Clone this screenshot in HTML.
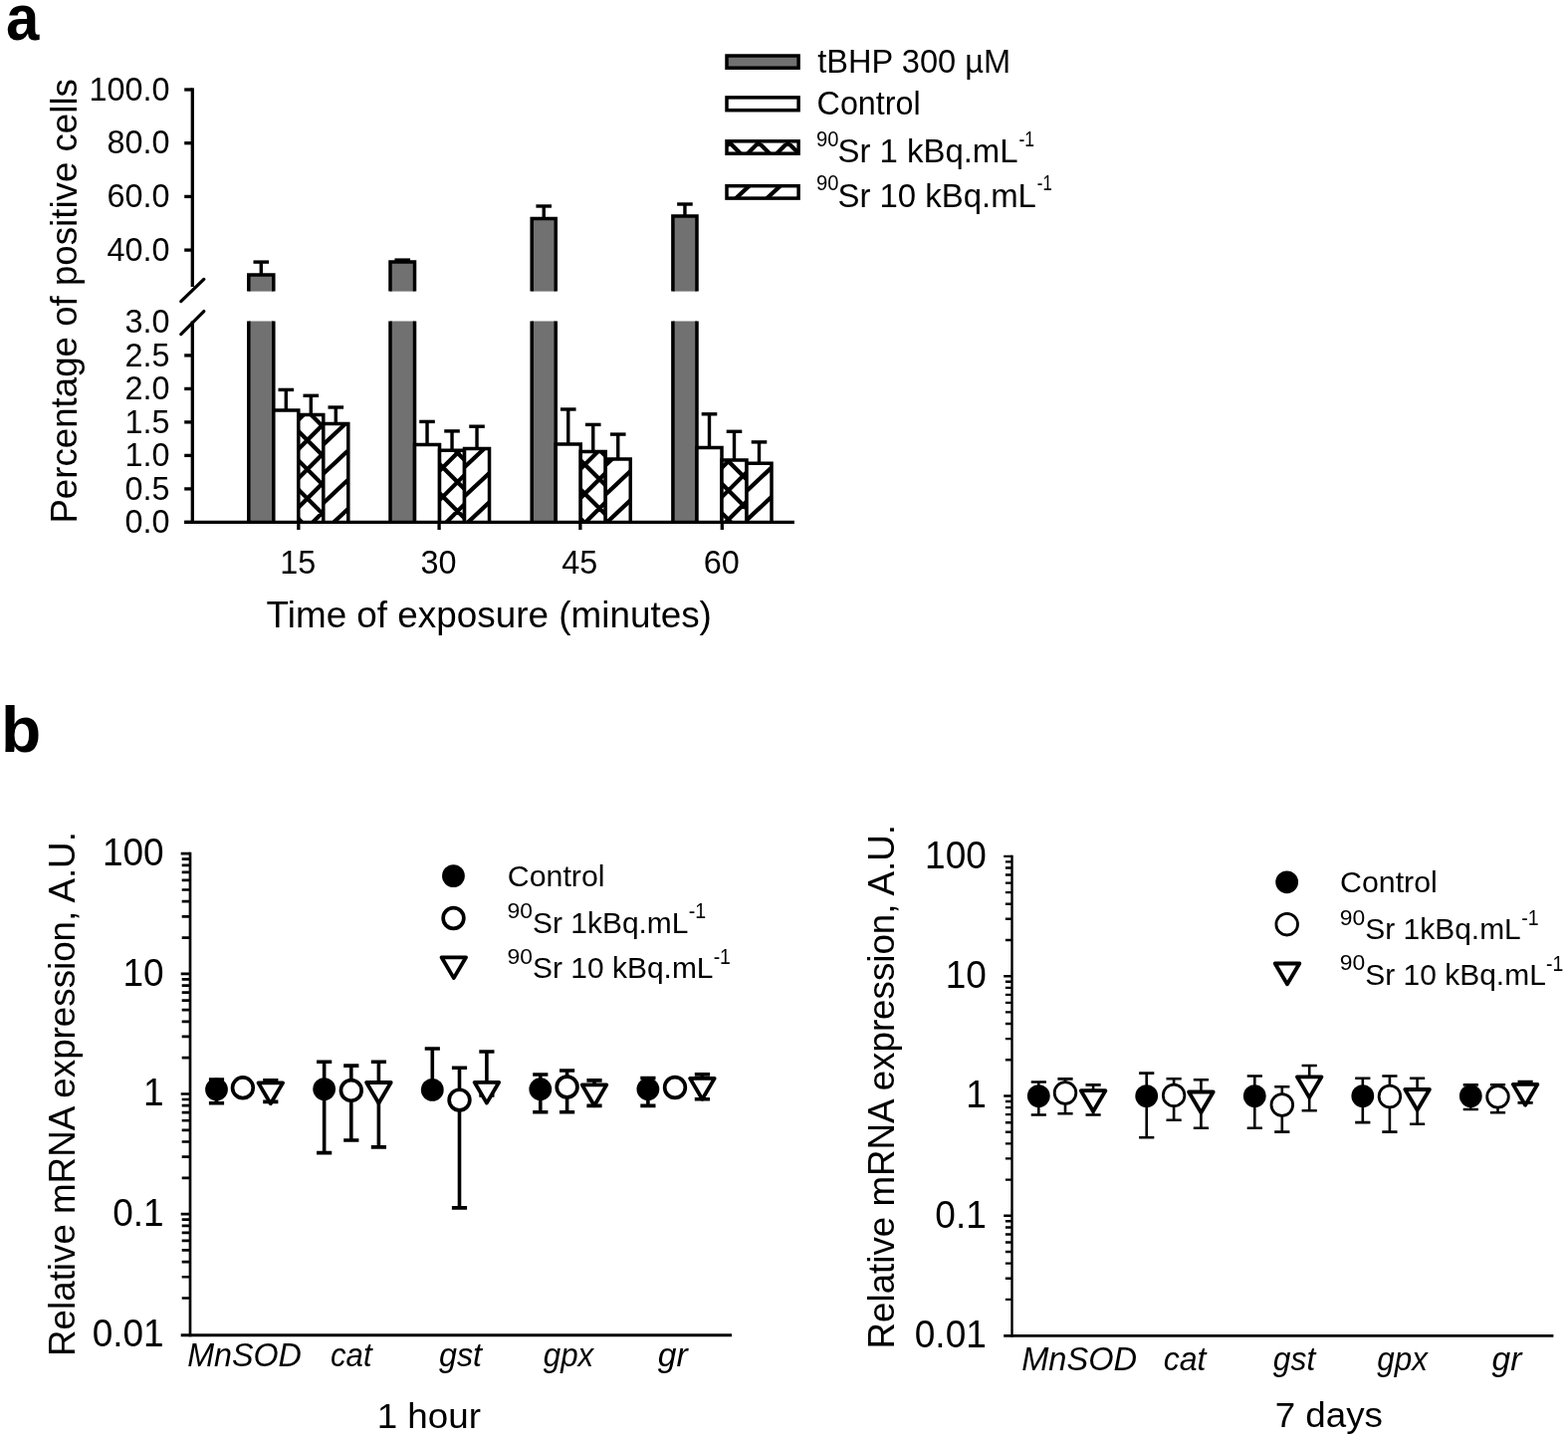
<!DOCTYPE html>
<html lang="en"><head><meta charset="utf-8"><title>Figure</title>
<style>html,body{margin:0;padding:0;background:#fff}svg{display:block}</style>
</head><body>
<svg width="1575" height="1447" viewBox="0 0 1575 1447" font-family='"Liberation Sans", Arial, Helvetica, sans-serif' fill="#000">
<rect width="1575" height="1447" fill="#fff"/>
<line x1="262.30" y1="263.10" x2="262.30" y2="276.00" stroke="#000" stroke-width="3.4"/>
<line x1="254.50" y1="263.10" x2="270.10" y2="263.10" stroke="#000" stroke-width="3.4"/>
<rect x="249.80" y="276.00" width="25.00" height="16.60" fill="#717171"/>
<path d="M249.80 292.60V276.00H274.80V292.60" fill="none" stroke="#000" stroke-width="3.5"/>
<rect x="249.80" y="322.50" width="25.00" height="201.90" fill="#717171"/>
<path d="M249.80 322.50V524.40M274.80 322.50V524.40" fill="none" stroke="#000" stroke-width="3.5"/>
<line x1="287.30" y1="391.40" x2="287.30" y2="411.90" stroke="#000" stroke-width="3.4"/>
<line x1="279.50" y1="391.40" x2="295.10" y2="391.40" stroke="#000" stroke-width="3.4"/>
<rect x="274.80" y="411.90" width="25.00" height="112.50" fill="#fff"/>
<path d="M274.80 524.40V411.90H299.80V524.40" fill="none" stroke="#000" stroke-width="3.5"/>
<line x1="312.30" y1="397.30" x2="312.30" y2="416.50" stroke="#000" stroke-width="3.4"/>
<line x1="304.50" y1="397.30" x2="320.10" y2="397.30" stroke="#000" stroke-width="3.4"/>
<rect x="299.80" y="416.50" width="25.00" height="107.90" fill="#fff"/>
<clipPath id="c1"><rect x="299.80" y="416.50" width="25.00" height="107.90"/></clipPath>
<path clip-path="url(#c1)" stroke="#000" stroke-width="4.2" fill="none" d="M294.8 397.3L329.8 362.3M294.8 426.6L329.8 391.6M294.8 455.9L329.8 420.9M294.8 485.2L329.8 450.2M294.8 514.5L329.8 479.5M294.8 543.8L329.8 508.8M294.8 573.1L329.8 538.1M294.8 545.3L329.8 580.3M294.8 516.0L329.8 551.0M294.8 486.7L329.8 521.7M294.8 457.4L329.8 492.4M294.8 428.1L329.8 463.1M294.8 398.8L329.8 433.8M294.8 369.5L329.8 404.5"/>
<path d="M299.80 524.40V416.50H324.80V524.40" fill="none" stroke="#000" stroke-width="3.5"/>
<line x1="337.30" y1="409.00" x2="337.30" y2="425.60" stroke="#000" stroke-width="3.4"/>
<line x1="329.50" y1="409.00" x2="345.10" y2="409.00" stroke="#000" stroke-width="3.4"/>
<rect x="324.80" y="425.60" width="25.00" height="98.80" fill="#fff"/>
<clipPath id="c2"><rect x="324.80" y="425.60" width="25.00" height="98.80"/></clipPath>
<path clip-path="url(#c2)" stroke="#000" stroke-width="4.2" fill="none" d="M319.8 421.9L354.8 389.0M319.8 451.1L354.8 418.2M319.8 480.4L354.8 447.5M319.8 509.8L354.8 476.9M319.8 539.0L354.8 506.1M319.8 568.4L354.8 535.5"/>
<path d="M324.80 524.40V425.60H349.80V524.40" fill="none" stroke="#000" stroke-width="3.5"/>
<line x1="404.26" y1="261.10" x2="404.26" y2="263.10" stroke="#000" stroke-width="3.4"/>
<line x1="396.46" y1="261.10" x2="412.06" y2="261.10" stroke="#000" stroke-width="3.4"/>
<rect x="392.00" y="263.10" width="24.53" height="29.50" fill="#717171"/>
<path d="M392.00 292.60V263.10H416.53V292.60" fill="none" stroke="#000" stroke-width="3.5"/>
<rect x="392.00" y="322.50" width="24.53" height="201.90" fill="#717171"/>
<path d="M392.00 322.50V524.40M416.53 322.50V524.40" fill="none" stroke="#000" stroke-width="3.5"/>
<line x1="429.03" y1="423.40" x2="429.03" y2="446.60" stroke="#000" stroke-width="3.4"/>
<line x1="421.23" y1="423.40" x2="436.83" y2="423.40" stroke="#000" stroke-width="3.4"/>
<rect x="416.53" y="446.60" width="25.00" height="77.80" fill="#fff"/>
<path d="M416.53 524.40V446.60H441.53V524.40" fill="none" stroke="#000" stroke-width="3.5"/>
<line x1="454.03" y1="432.90" x2="454.03" y2="452.30" stroke="#000" stroke-width="3.4"/>
<line x1="446.23" y1="432.90" x2="461.83" y2="432.90" stroke="#000" stroke-width="3.4"/>
<rect x="441.53" y="452.30" width="25.00" height="72.10" fill="#fff"/>
<clipPath id="c3"><rect x="441.53" y="452.30" width="25.00" height="72.10"/></clipPath>
<path clip-path="url(#c3)" stroke="#000" stroke-width="4.2" fill="none" d="M436.5 448.5L471.5 413.5M436.5 477.8L471.5 442.8M436.5 507.1L471.5 472.1M436.5 536.4L471.5 501.4M436.5 565.7L471.5 530.7M436.5 548.9L471.5 583.9M436.5 519.6L471.5 554.6M436.5 490.3L471.5 525.3M436.5 461.0L471.5 496.0M436.5 431.7L471.5 466.7M436.5 402.4L471.5 437.4"/>
<path d="M441.53 524.40V452.30H466.53V524.40" fill="none" stroke="#000" stroke-width="3.5"/>
<line x1="479.03" y1="428.20" x2="479.03" y2="450.50" stroke="#000" stroke-width="3.4"/>
<line x1="471.23" y1="428.20" x2="486.83" y2="428.20" stroke="#000" stroke-width="3.4"/>
<rect x="466.53" y="450.50" width="25.00" height="73.90" fill="#fff"/>
<clipPath id="c4"><rect x="466.53" y="450.50" width="25.00" height="73.90"/></clipPath>
<path clip-path="url(#c4)" stroke="#000" stroke-width="4.2" fill="none" d="M461.5 444.6L496.5 411.7M461.5 473.9L496.5 441.0M461.5 503.2L496.5 470.3M461.5 532.5L496.5 499.6M461.5 561.8L496.5 528.9"/>
<path d="M466.53 524.40V450.50H491.53V524.40" fill="none" stroke="#000" stroke-width="3.5"/>
<line x1="546.23" y1="207.00" x2="546.23" y2="219.60" stroke="#000" stroke-width="3.4"/>
<line x1="538.43" y1="207.00" x2="554.03" y2="207.00" stroke="#000" stroke-width="3.4"/>
<rect x="534.20" y="219.60" width="24.06" height="73.00" fill="#717171"/>
<path d="M534.20 292.60V219.60H558.26V292.60" fill="none" stroke="#000" stroke-width="3.5"/>
<rect x="534.20" y="322.50" width="24.06" height="201.90" fill="#717171"/>
<path d="M534.20 322.50V524.40M558.26 322.50V524.40" fill="none" stroke="#000" stroke-width="3.5"/>
<line x1="570.76" y1="411.00" x2="570.76" y2="445.90" stroke="#000" stroke-width="3.4"/>
<line x1="562.96" y1="411.00" x2="578.56" y2="411.00" stroke="#000" stroke-width="3.4"/>
<rect x="558.26" y="445.90" width="25.00" height="78.50" fill="#fff"/>
<path d="M558.26 524.40V445.90H583.26V524.40" fill="none" stroke="#000" stroke-width="3.5"/>
<line x1="595.76" y1="426.40" x2="595.76" y2="453.50" stroke="#000" stroke-width="3.4"/>
<line x1="587.96" y1="426.40" x2="603.56" y2="426.40" stroke="#000" stroke-width="3.4"/>
<rect x="583.26" y="453.50" width="25.00" height="70.90" fill="#fff"/>
<clipPath id="c5"><rect x="583.26" y="453.50" width="25.00" height="70.90"/></clipPath>
<path clip-path="url(#c5)" stroke="#000" stroke-width="4.2" fill="none" d="M578.3 446.4L613.3 411.4M578.3 475.7L613.3 440.7M578.3 505.0L613.3 470.0M578.3 534.3L613.3 499.3M578.3 563.6L613.3 528.6M578.3 545.2L613.3 580.2M578.3 515.9L613.3 550.9M578.3 486.6L613.3 521.6M578.3 457.3L613.3 492.3M578.3 428.0L613.3 463.0M578.3 398.7L613.3 433.7"/>
<path d="M583.26 524.40V453.50H608.26V524.40" fill="none" stroke="#000" stroke-width="3.5"/>
<line x1="620.76" y1="436.10" x2="620.76" y2="460.90" stroke="#000" stroke-width="3.4"/>
<line x1="612.96" y1="436.10" x2="628.56" y2="436.10" stroke="#000" stroke-width="3.4"/>
<rect x="608.26" y="460.90" width="25.00" height="63.50" fill="#fff"/>
<clipPath id="c6"><rect x="608.26" y="460.90" width="25.00" height="63.50"/></clipPath>
<path clip-path="url(#c6)" stroke="#000" stroke-width="4.2" fill="none" d="M603.3 442.6L638.3 409.7M603.3 471.9L638.3 439.0M603.3 501.2L638.3 468.3M603.3 530.5L638.3 497.6M603.3 559.8L638.3 526.9"/>
<path d="M608.26 524.40V460.90H633.26V524.40" fill="none" stroke="#000" stroke-width="3.5"/>
<line x1="687.94" y1="205.00" x2="687.94" y2="217.10" stroke="#000" stroke-width="3.4"/>
<line x1="680.14" y1="205.00" x2="695.74" y2="205.00" stroke="#000" stroke-width="3.4"/>
<rect x="675.90" y="217.10" width="24.09" height="75.50" fill="#717171"/>
<path d="M675.90 292.60V217.10H699.99V292.60" fill="none" stroke="#000" stroke-width="3.5"/>
<rect x="675.90" y="322.50" width="24.09" height="201.90" fill="#717171"/>
<path d="M675.90 322.50V524.40M699.99 322.50V524.40" fill="none" stroke="#000" stroke-width="3.5"/>
<line x1="712.49" y1="415.80" x2="712.49" y2="449.50" stroke="#000" stroke-width="3.4"/>
<line x1="704.69" y1="415.80" x2="720.29" y2="415.80" stroke="#000" stroke-width="3.4"/>
<rect x="699.99" y="449.50" width="25.00" height="74.90" fill="#fff"/>
<path d="M699.99 524.40V449.50H724.99V524.40" fill="none" stroke="#000" stroke-width="3.5"/>
<line x1="737.49" y1="433.30" x2="737.49" y2="462.10" stroke="#000" stroke-width="3.4"/>
<line x1="729.69" y1="433.30" x2="745.29" y2="433.30" stroke="#000" stroke-width="3.4"/>
<rect x="724.99" y="462.10" width="25.00" height="62.30" fill="#fff"/>
<clipPath id="c7"><rect x="724.99" y="462.10" width="25.00" height="62.30"/></clipPath>
<path clip-path="url(#c7)" stroke="#000" stroke-width="4.2" fill="none" d="M720.0 445.5L755.0 410.5M720.0 474.8L755.0 439.8M720.0 504.1L755.0 469.1M720.0 533.4L755.0 498.4M720.0 562.7L755.0 527.7M720.0 539.4L755.0 574.4M720.0 510.1L755.0 545.1M720.0 480.8L755.0 515.8M720.0 451.5L755.0 486.5M720.0 422.2L755.0 457.2"/>
<path d="M724.99 524.40V462.10H749.99V524.40" fill="none" stroke="#000" stroke-width="3.5"/>
<line x1="762.49" y1="443.90" x2="762.49" y2="465.20" stroke="#000" stroke-width="3.4"/>
<line x1="754.69" y1="443.90" x2="770.29" y2="443.90" stroke="#000" stroke-width="3.4"/>
<rect x="749.99" y="465.20" width="25.00" height="59.20" fill="#fff"/>
<clipPath id="c8"><rect x="749.99" y="465.20" width="25.00" height="59.20"/></clipPath>
<path clip-path="url(#c8)" stroke="#000" stroke-width="4.2" fill="none" d="M745.0 439.1L780.0 406.2M745.0 468.4L780.0 435.5M745.0 497.7L780.0 464.8M745.0 527.0L780.0 494.1M745.0 556.3L780.0 523.4M745.0 585.6L780.0 552.7"/>
<path d="M749.99 524.40V465.20H774.99V524.40" fill="none" stroke="#000" stroke-width="3.5"/>
<line x1="193.30" y1="88.35" x2="193.30" y2="288.00" stroke="#000" stroke-width="3.3"/>
<line x1="193.30" y1="322.50" x2="193.30" y2="526.05" stroke="#000" stroke-width="3.3"/>
<line x1="181.80" y1="302.60" x2="204.80" y2="280.40" stroke="#000" stroke-width="3.3" stroke-linecap="round"/>
<line x1="181.80" y1="335.60" x2="204.80" y2="312.60" stroke="#000" stroke-width="3.3" stroke-linecap="round"/>
<line x1="185.20" y1="90.00" x2="193.30" y2="90.00" stroke="#000" stroke-width="3.3"/>
<text transform="translate(170.50 100.60) scale(0.9530 1)" text-anchor="end" font-size="34.0">100.0</text>
<line x1="185.20" y1="143.70" x2="193.30" y2="143.70" stroke="#000" stroke-width="3.3"/>
<text transform="translate(170.50 154.30) scale(0.9530 1)" text-anchor="end" font-size="34.0">80.0</text>
<line x1="185.20" y1="197.40" x2="193.30" y2="197.40" stroke="#000" stroke-width="3.3"/>
<text transform="translate(170.50 208.00) scale(0.9530 1)" text-anchor="end" font-size="34.0">60.0</text>
<line x1="185.20" y1="251.10" x2="193.30" y2="251.10" stroke="#000" stroke-width="3.3"/>
<text transform="translate(170.50 261.70) scale(0.9530 1)" text-anchor="end" font-size="34.0">40.0</text>
<text transform="translate(170.50 334.00) scale(0.9530 1)" text-anchor="end" font-size="34.0">3.0</text>
<line x1="185.20" y1="356.90" x2="193.30" y2="356.90" stroke="#000" stroke-width="3.3"/>
<text transform="translate(170.50 367.50) scale(0.9530 1)" text-anchor="end" font-size="34.0">2.5</text>
<line x1="185.20" y1="390.40" x2="193.30" y2="390.40" stroke="#000" stroke-width="3.3"/>
<text transform="translate(170.50 401.00) scale(0.9530 1)" text-anchor="end" font-size="34.0">2.0</text>
<line x1="185.20" y1="423.90" x2="193.30" y2="423.90" stroke="#000" stroke-width="3.3"/>
<text transform="translate(170.50 434.50) scale(0.9530 1)" text-anchor="end" font-size="34.0">1.5</text>
<line x1="185.20" y1="457.40" x2="193.30" y2="457.40" stroke="#000" stroke-width="3.3"/>
<text transform="translate(170.50 468.00) scale(0.9530 1)" text-anchor="end" font-size="34.0">1.0</text>
<line x1="185.20" y1="490.90" x2="193.30" y2="490.90" stroke="#000" stroke-width="3.3"/>
<text transform="translate(170.50 501.50) scale(0.9530 1)" text-anchor="end" font-size="34.0">0.5</text>
<line x1="185.20" y1="524.40" x2="193.30" y2="524.40" stroke="#000" stroke-width="3.3"/>
<text transform="translate(170.50 535.00) scale(0.9530 1)" text-anchor="end" font-size="34.0">0.0</text>
<line x1="185.20" y1="524.40" x2="797.90" y2="524.40" stroke="#000" stroke-width="3.3"/>
<line x1="299.85" y1="524.40" x2="299.85" y2="532.00" stroke="#000" stroke-width="3.3"/>
<text transform="translate(299.25 575.80) scale(0.9530 1)" text-anchor="middle" font-size="34.0">15</text>
<line x1="441.10" y1="524.40" x2="441.10" y2="532.00" stroke="#000" stroke-width="3.3"/>
<text transform="translate(440.50 575.80) scale(0.9530 1)" text-anchor="middle" font-size="34.0">30</text>
<line x1="582.90" y1="524.40" x2="582.90" y2="532.00" stroke="#000" stroke-width="3.3"/>
<text transform="translate(582.30 575.80) scale(0.9530 1)" text-anchor="middle" font-size="34.0">45</text>
<line x1="725.30" y1="524.40" x2="725.30" y2="532.00" stroke="#000" stroke-width="3.3"/>
<text transform="translate(724.70 575.80) scale(0.9530 1)" text-anchor="middle" font-size="34.0">60</text>
<text transform="translate(267.59 630.00) scale(1.0017 1)" font-size="36.8">Time of exposure (minutes)</text>
<text transform="translate(76.80 525.61) rotate(-90) scale(0.9970 1)" font-size="36.8">Percentage of positive cells</text>
<text transform="translate(6.06 40.30) scale(0.9149 1)" font-size="65.5" font-weight="bold">a</text>
<rect x="730.0" y="56.0" width="72.10" height="12.20" fill="#717171"/>
<rect x="730.0" y="56.0" width="72.10" height="12.20" fill="none" stroke="#000" stroke-width="3.5"/>
<rect x="730.0" y="97.9" width="72.10" height="12.80" fill="#fff"/>
<rect x="730.0" y="97.9" width="72.10" height="12.80" fill="none" stroke="#000" stroke-width="3.5"/>
<rect x="730.0" y="141.8" width="72.10" height="12.40" fill="#fff"/>
<clipPath id="c9"><rect x="730.00" y="141.80" width="72.10" height="12.40"/></clipPath>
<path clip-path="url(#c9)" stroke="#000" stroke-width="4.2" fill="none" d="M725.0 121.5L807.1 39.4M725.0 150.8L807.1 68.7M725.0 180.1L807.1 98.0M725.0 209.4L807.1 127.3M725.0 238.7L807.1 156.6M725.0 164.7L807.1 246.8M725.0 135.4L807.1 217.5M725.0 106.1L807.1 188.2M725.0 76.8L807.1 158.9M725.0 47.5L807.1 129.6"/>
<rect x="730.0" y="141.8" width="72.10" height="12.40" fill="none" stroke="#000" stroke-width="3.5"/>
<rect x="730.0" y="186.7" width="72.10" height="12.40" fill="#fff"/>
<clipPath id="c10"><rect x="730.00" y="186.70" width="72.10" height="12.40"/></clipPath>
<path clip-path="url(#c10)" stroke="#000" stroke-width="4.2" fill="none" d="M725.0 183.2L807.1 106.1M725.0 212.5L807.1 135.4M725.0 241.8L807.1 164.7M725.0 271.1L807.1 194.0M725.0 300.4L807.1 223.3"/>
<rect x="730.0" y="186.7" width="72.10" height="12.40" fill="none" stroke="#000" stroke-width="3.5"/>
<text transform="translate(821.31 72.80) scale(0.9815 1)" font-size="33.2">tBHP 300 µM</text>
<text transform="translate(820.58 115.40) scale(0.9733 1)" font-size="33.2">Control</text>
<text transform="translate(820.07 146.70) scale(0.9498 1)" font-size="21.2">90</text>
<text transform="translate(841.52 163.10) scale(0.9918 1)" font-size="33.2">Sr 1 kBq.mL</text>
<text transform="translate(1023.43 146.60) scale(0.8286 1)" font-size="21.2">-1</text>
<text transform="translate(820.07 191.10) scale(0.9498 1)" font-size="21.2">90</text>
<text transform="translate(841.52 207.50) scale(0.9913 1)" font-size="33.2">Sr 10 kBq.mL</text>
<text transform="translate(1041.86 191.10) scale(0.7931 1)" font-size="21.2">-1</text>
<text transform="translate(1.01 755.00) scale(1.0067 1)" font-size="65.5" font-weight="bold">b</text>
<line x1="191.00" y1="855.85" x2="191.00" y2="1342.25" stroke="#000" stroke-width="2.7"/>
<line x1="181.70" y1="1340.70" x2="735.00" y2="1340.70" stroke="#000" stroke-width="3.1"/>
<text transform="translate(164.70 869.10) scale(0.9640 1)" text-anchor="end" font-size="38.4">100</text>
<text transform="translate(164.70 989.75) scale(0.9640 1)" text-anchor="end" font-size="38.4">10</text>
<text transform="translate(164.70 1110.40) scale(0.9640 1)" text-anchor="end" font-size="38.4">1</text>
<text transform="translate(164.70 1231.05) scale(0.9640 1)" text-anchor="end" font-size="38.4">0.1</text>
<text transform="translate(164.70 1351.70) scale(0.9640 1)" text-anchor="end" font-size="38.4">0.01</text>
<path d="M181.70 857.20H191.00M182.70 941.53H191.00M182.70 920.29H191.00M182.70 905.21H191.00M182.70 893.52H191.00M182.70 883.97H191.00M182.70 875.89H191.00M182.70 868.89H191.00M182.70 862.72H191.00M181.70 977.85H191.00M182.70 1062.18H191.00M182.70 1040.94H191.00M182.70 1025.86H191.00M182.70 1014.17H191.00M182.70 1004.62H191.00M182.70 996.54H191.00M182.70 989.54H191.00M182.70 983.37H191.00M181.70 1098.50H191.00M182.70 1182.83H191.00M182.70 1161.59H191.00M182.70 1146.51H191.00M182.70 1134.82H191.00M182.70 1125.27H191.00M182.70 1117.19H191.00M182.70 1110.19H191.00M182.70 1104.02H191.00M181.70 1219.15H191.00M182.70 1303.48H191.00M182.70 1282.24H191.00M182.70 1267.16H191.00M182.70 1255.47H191.00M182.70 1245.92H191.00M182.70 1237.84H191.00M182.70 1230.84H191.00M182.70 1224.67H191.00" stroke="#000" stroke-width="2.7" fill="none"/>
<path d="M217.50 1084.00V1107.80M209.90 1084.00h15.2M209.90 1107.80h15.2" stroke="#000" stroke-width="3.6" fill="none"/>
<circle cx="217.50" cy="1094.00" r="11.4"/>
<path d="M243.90 1087.00V1097.00M236.30 1087.00h15.2M236.30 1097.00h15.2" stroke="#000" stroke-width="3.6" fill="none"/>
<circle cx="243.90" cy="1092.30" r="10.35" fill="#fff" stroke="#000" stroke-width="3.7"/>
<path d="M271.80 1084.70V1106.40M264.20 1084.70h15.2M264.20 1106.40h15.2" stroke="#000" stroke-width="3.6" fill="none"/>
<path d="M259.50 1087.40H284.10L271.80 1108.20Z" fill="#fff" stroke="#000" stroke-width="3.8" stroke-linejoin="round"/>
<path d="M325.65 1066.30V1157.60M318.05 1066.30h15.2M318.05 1157.60h15.2" stroke="#000" stroke-width="3.6" fill="none"/>
<circle cx="325.65" cy="1093.60" r="11.4"/>
<path d="M352.80 1070.10V1145.00M345.20 1070.10h15.2M345.20 1145.00h15.2" stroke="#000" stroke-width="3.6" fill="none"/>
<circle cx="352.80" cy="1094.90" r="10.35" fill="#fff" stroke="#000" stroke-width="3.7"/>
<path d="M380.40 1066.30V1151.90M372.80 1066.30h15.2M372.80 1151.90h15.2" stroke="#000" stroke-width="3.6" fill="none"/>
<path d="M368.10 1087.00H392.70L380.40 1107.80Z" fill="#fff" stroke="#000" stroke-width="3.8" stroke-linejoin="round"/>
<path d="M434.30 1053.00V1100.00M426.70 1053.00h15.2M426.70 1100.00h15.2" stroke="#000" stroke-width="3.6" fill="none"/>
<circle cx="434.30" cy="1094.40" r="11.4"/>
<path d="M461.50 1072.30V1212.90M453.90 1072.30h15.2M453.90 1212.90h15.2" stroke="#000" stroke-width="3.6" fill="none"/>
<circle cx="461.50" cy="1104.60" r="10.35" fill="#fff" stroke="#000" stroke-width="3.7"/>
<path d="M488.90 1056.00V1100.00M481.30 1056.00h15.2M481.30 1100.00h15.2" stroke="#000" stroke-width="3.6" fill="none"/>
<path d="M476.60 1086.80H501.20L488.90 1107.60Z" fill="#fff" stroke="#000" stroke-width="3.8" stroke-linejoin="round"/>
<path d="M542.80 1079.00V1116.70M535.20 1079.00h15.2M535.20 1116.70h15.2" stroke="#000" stroke-width="3.6" fill="none"/>
<circle cx="542.80" cy="1093.70" r="11.4"/>
<path d="M569.60 1075.00V1116.70M562.00 1075.00h15.2M562.00 1116.70h15.2" stroke="#000" stroke-width="3.6" fill="none"/>
<circle cx="569.60" cy="1091.50" r="10.35" fill="#fff" stroke="#000" stroke-width="3.7"/>
<path d="M597.00 1084.90V1110.40M589.40 1084.90h15.2M589.40 1110.40h15.2" stroke="#000" stroke-width="3.6" fill="none"/>
<path d="M584.70 1089.40H609.30L597.00 1110.20Z" fill="#fff" stroke="#000" stroke-width="3.8" stroke-linejoin="round"/>
<path d="M650.90 1082.50V1110.40M643.30 1082.50h15.2M643.30 1110.40h15.2" stroke="#000" stroke-width="3.6" fill="none"/>
<circle cx="650.90" cy="1093.70" r="11.4"/>
<path d="M678.00 1087.00V1097.00M670.40 1087.00h15.2M670.40 1097.00h15.2" stroke="#000" stroke-width="3.6" fill="none"/>
<circle cx="678.00" cy="1092.00" r="10.35" fill="#fff" stroke="#000" stroke-width="3.7"/>
<path d="M705.40 1078.90V1103.80M697.80 1078.90h15.2M697.80 1103.80h15.2" stroke="#000" stroke-width="3.6" fill="none"/>
<path d="M693.10 1082.90H717.70L705.40 1103.70Z" fill="#fff" stroke="#000" stroke-width="3.8" stroke-linejoin="round"/>
<circle cx="455.45" cy="879.60" r="11.4"/>
<circle cx="455.50" cy="922.00" r="10.35" fill="#fff" stroke="#000" stroke-width="3.7"/>
<path d="M443.50 961.30H468.10L455.80 982.10Z" fill="#fff" stroke="#000" stroke-width="3.8" stroke-linejoin="round"/>
<text transform="translate(509.78 889.50) scale(1.0243 1)" font-size="29.6">Control</text>
<text transform="translate(509.55 922.00) scale(1.0783 1)" font-size="21.2">90</text>
<text transform="translate(535.05 936.50) scale(1.0117 1)" font-size="29.6">Sr 1kBq.mL</text>
<text transform="translate(691.84 922.20) scale(0.9233 1)" font-size="21.2">-1</text>
<text transform="translate(509.55 967.80) scale(1.0783 1)" font-size="21.2">90</text>
<text transform="translate(535.05 982.40) scale(1.0124 1)" font-size="29.6">Sr 10 kBq.mL</text>
<text transform="translate(716.64 968.00) scale(0.9174 1)" font-size="21.2">-1</text>
<text transform="translate(188.13 1372.00) scale(0.9903 1)" font-size="32.6" font-style="italic">MnSOD</text>
<text transform="translate(332.00 1372.00) scale(0.9567 1)" font-size="32.6" font-style="italic">cat</text>
<text transform="translate(440.97 1372.00) scale(0.9911 1)" font-size="32.6" font-style="italic">gst</text>
<text transform="translate(545.77 1372.00) scale(0.9608 1)" font-size="32.6" font-style="italic">gpx</text>
<text transform="translate(660.87 1372.00) scale(1.0314 1)" font-size="32.6" font-style="italic">gr</text>
<text transform="translate(378.70 1433.60) scale(1.0662 1)" font-size="34.5">1 hour</text>
<text transform="translate(74.80 1361.91) rotate(-90) scale(1.0096 1)" font-size="36.4">Relative mRNA expression, A.U.</text>
<line x1="1016.50" y1="858.70" x2="1016.50" y2="1342.65" stroke="#000" stroke-width="2.4"/>
<line x1="1008.20" y1="1341.30" x2="1560.40" y2="1341.30" stroke="#000" stroke-width="2.7"/>
<text transform="translate(990.80 871.80) scale(0.9640 1)" text-anchor="end" font-size="38.4">100</text>
<text transform="translate(990.80 992.10) scale(0.9640 1)" text-anchor="end" font-size="38.4">10</text>
<text transform="translate(990.80 1112.40) scale(0.9640 1)" text-anchor="end" font-size="38.4">1</text>
<text transform="translate(990.80 1232.70) scale(0.9640 1)" text-anchor="end" font-size="38.4">0.1</text>
<text transform="translate(990.80 1353.00) scale(0.9640 1)" text-anchor="end" font-size="38.4">0.01</text>
<path d="M1008.20 859.90H1016.50M1009.90 943.99H1016.50M1009.90 922.80H1016.50M1009.90 907.77H1016.50M1009.90 896.11H1016.50M1009.90 886.59H1016.50M1009.90 878.53H1016.50M1009.90 871.56H1016.50M1009.90 865.40H1016.50M1008.20 980.20H1016.50M1009.90 1064.29H1016.50M1009.90 1043.10H1016.50M1009.90 1028.07H1016.50M1009.90 1016.41H1016.50M1009.90 1006.89H1016.50M1009.90 998.83H1016.50M1009.90 991.86H1016.50M1009.90 985.70H1016.50M1008.20 1100.50H1016.50M1009.90 1184.59H1016.50M1009.90 1163.40H1016.50M1009.90 1148.37H1016.50M1009.90 1136.71H1016.50M1009.90 1127.19H1016.50M1009.90 1119.13H1016.50M1009.90 1112.16H1016.50M1009.90 1106.00H1016.50M1008.20 1220.80H1016.50M1009.90 1304.89H1016.50M1009.90 1283.70H1016.50M1009.90 1268.67H1016.50M1009.90 1257.01H1016.50M1009.90 1247.49H1016.50M1009.90 1239.43H1016.50M1009.90 1232.46H1016.50M1009.90 1226.30H1016.50" stroke="#000" stroke-width="2.4" fill="none"/>
<path d="M1043.30 1086.50V1119.50M1035.70 1086.50h15.2M1035.70 1119.50h15.2" stroke="#000" stroke-width="2.6" fill="none"/>
<circle cx="1043.30" cy="1100.60" r="11.4"/>
<path d="M1070.00 1083.40V1118.20M1062.40 1083.40h15.2M1062.40 1118.20h15.2" stroke="#000" stroke-width="2.6" fill="none"/>
<circle cx="1070.00" cy="1097.50" r="10.80" fill="#fff" stroke="#000" stroke-width="2.8"/>
<path d="M1098.10 1089.40V1119.50M1090.50 1089.40h15.2M1090.50 1119.50h15.2" stroke="#000" stroke-width="2.6" fill="none"/>
<path d="M1085.80 1095.20H1110.40L1098.10 1116.00Z" fill="#fff" stroke="#000" stroke-width="3.8" stroke-linejoin="round"/>
<path d="M1151.70 1077.60V1142.30M1144.10 1077.60h15.2M1144.10 1142.30h15.2" stroke="#000" stroke-width="2.6" fill="none"/>
<circle cx="1151.70" cy="1100.60" r="11.4"/>
<path d="M1179.10 1083.30V1124.80M1171.50 1083.30h15.2M1171.50 1124.80h15.2" stroke="#000" stroke-width="2.6" fill="none"/>
<circle cx="1179.10" cy="1099.90" r="10.80" fill="#fff" stroke="#000" stroke-width="2.8"/>
<path d="M1206.40 1084.20V1132.80M1198.80 1084.20h15.2M1198.80 1132.80h15.2" stroke="#000" stroke-width="2.6" fill="none"/>
<path d="M1194.10 1096.50H1218.70L1206.40 1117.30Z" fill="#fff" stroke="#000" stroke-width="3.8" stroke-linejoin="round"/>
<path d="M1260.30 1080.50V1132.80M1252.70 1080.50h15.2M1252.70 1132.80h15.2" stroke="#000" stroke-width="2.6" fill="none"/>
<circle cx="1260.30" cy="1100.60" r="11.4"/>
<path d="M1287.80 1091.20V1136.60M1280.20 1091.20h15.2M1280.20 1136.60h15.2" stroke="#000" stroke-width="2.6" fill="none"/>
<circle cx="1287.80" cy="1109.50" r="10.80" fill="#fff" stroke="#000" stroke-width="2.8"/>
<path d="M1315.20 1070.00V1115.30M1307.60 1070.00h15.2M1307.60 1115.30h15.2" stroke="#000" stroke-width="2.6" fill="none"/>
<path d="M1302.90 1081.30H1327.50L1315.20 1102.10Z" fill="#fff" stroke="#000" stroke-width="3.8" stroke-linejoin="round"/>
<path d="M1368.80 1082.70V1127.10M1361.20 1082.70h15.2M1361.20 1127.10h15.2" stroke="#000" stroke-width="2.6" fill="none"/>
<circle cx="1368.80" cy="1100.60" r="11.4"/>
<path d="M1395.90 1080.50V1136.60M1388.30 1080.50h15.2M1388.30 1136.60h15.2" stroke="#000" stroke-width="2.6" fill="none"/>
<circle cx="1395.90" cy="1101.00" r="10.80" fill="#fff" stroke="#000" stroke-width="2.8"/>
<path d="M1423.60 1082.70V1128.80M1416.00 1082.70h15.2M1416.00 1128.80h15.2" stroke="#000" stroke-width="2.6" fill="none"/>
<path d="M1411.30 1094.00H1435.90L1423.60 1114.80Z" fill="#fff" stroke="#000" stroke-width="3.8" stroke-linejoin="round"/>
<path d="M1477.30 1089.40V1114.00M1469.70 1089.40h15.2M1469.70 1114.00h15.2" stroke="#000" stroke-width="2.6" fill="none"/>
<circle cx="1477.30" cy="1100.60" r="11.4"/>
<path d="M1504.50 1089.30V1117.20M1496.90 1089.30h15.2M1496.90 1117.20h15.2" stroke="#000" stroke-width="2.6" fill="none"/>
<circle cx="1504.50" cy="1101.30" r="10.80" fill="#fff" stroke="#000" stroke-width="2.8"/>
<path d="M1532.10 1086.00V1107.40M1524.50 1086.00h15.2M1524.50 1107.40h15.2" stroke="#000" stroke-width="2.6" fill="none"/>
<path d="M1519.80 1088.90H1544.40L1532.10 1109.70Z" fill="#fff" stroke="#000" stroke-width="3.8" stroke-linejoin="round"/>
<circle cx="1292.65" cy="885.80" r="11.4"/>
<circle cx="1292.70" cy="928.20" r="10.80" fill="#fff" stroke="#000" stroke-width="2.8"/>
<path d="M1280.70 967.50H1305.30L1293.00 988.30Z" fill="#fff" stroke="#000" stroke-width="3.8" stroke-linejoin="round"/>
<text transform="translate(1346.08 896.00) scale(1.0243 1)" font-size="29.6">Control</text>
<text transform="translate(1345.85 928.50) scale(1.0783 1)" font-size="21.2">90</text>
<text transform="translate(1371.35 943.00) scale(1.0117 1)" font-size="29.6">Sr 1kBq.mL</text>
<text transform="translate(1528.14 928.70) scale(0.9233 1)" font-size="21.2">-1</text>
<text transform="translate(1345.85 974.30) scale(1.0783 1)" font-size="21.2">90</text>
<text transform="translate(1371.35 988.90) scale(1.0124 1)" font-size="29.6">Sr 10 kBq.mL</text>
<text transform="translate(1552.94 974.50) scale(0.9174 1)" font-size="21.2">-1</text>
<text transform="translate(1026.22 1375.60) scale(0.9991 1)" font-size="32.6" font-style="italic">MnSOD</text>
<text transform="translate(1168.78 1375.60) scale(0.9820 1)" font-size="32.6" font-style="italic">cat</text>
<text transform="translate(1278.87 1375.60) scale(0.9754 1)" font-size="32.6" font-style="italic">gst</text>
<text transform="translate(1383.27 1375.60) scale(0.9627 1)" font-size="32.6" font-style="italic">gpx</text>
<text transform="translate(1498.57 1375.60) scale(1.0314 1)" font-size="32.6" font-style="italic">gr</text>
<text transform="translate(1280.63 1433.40) scale(1.0655 1)" font-size="34.5">7 days</text>
<text transform="translate(897.90 1354.41) rotate(-90) scale(1.0092 1)" font-size="36.4">Relative mRNA expression, A.U.</text>
</svg>
</body></html>
